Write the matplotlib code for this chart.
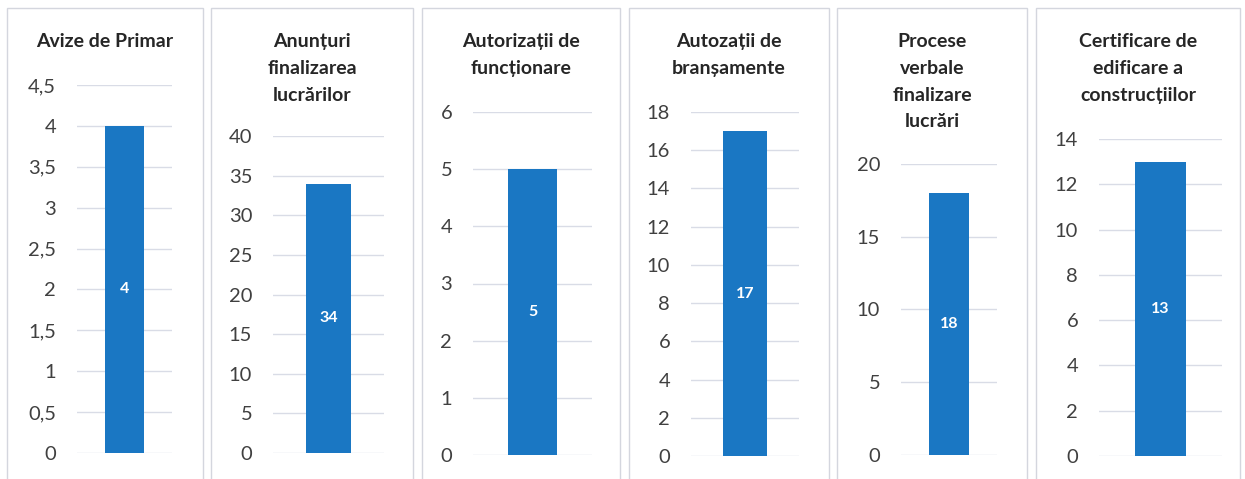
import matplotlib.pyplot as plt
from matplotlib.patches import Rectangle

W, H = 1245, 479

titles = [
    "Avize de Primar",
    "Anunțuri\nfinalizarea\nlucrărilor",
    "Autorizații de\nfuncționare",
    "Autozații de\nbranșamente",
    "Procese\nverbale\nfinalizare\nlucrări",
    "Certificare de\nedificare a\nconstrucțiilor",
]
values = [4, 34, 5, 17, 18, 13]
y_max = [4.5, 40, 6, 18, 20, 14]
y_step = [0.5, 5, 1, 2, 5, 2]

# pixel layout of each panel: box left/right, axes left/right, axes bottom/top
boxes = [(7, 203), (211, 413), (422, 620), (629, 829), (837, 1027), (1036, 1240)]
axes_px = [(77, 172, 453, 85), (273, 384, 453, 136), (473, 592, 455, 112),
           (691, 799, 456, 112), (901, 997, 455, 164), (1099, 1222, 456, 139)]

bar_color = "#1a77c3"
grid_color = "#d9dce6"
text_color = "#404040"

plt.rcParams['font.family'] = ['Lato', 'DejaVu Sans']


def fmt(v):
    s = f"{v:g}"
    return s.replace(".", ",")


def main():
    fig = plt.figure(figsize=(W / 100, H / 100), dpi=100)
    fig.patch.set_facecolor("white")

    for i in range(len(values)):
        bx0, bx1 = boxes[i]
        fig.patches.append(Rectangle((bx0 / W, -0.05), (bx1 - bx0) / W, (H - 8) / H + 0.05,
                                     transform=fig.transFigure, fill=False,
                                     edgecolor="#d4d6de", linewidth=1))
        fig.text((bx0 + bx1) / 2 / W, 1 - 33 / H, titles[i], ha="center", va="top",
                 fontsize=14, fontweight="bold", color="#262626", linespacing=1.7)

        x0, x1, yb, yt = axes_px[i]
        ax = fig.add_axes([x0 / W, 1 - yb / H, (x1 - x0) / W, (yb - yt) / H])
        ax.set_xlim(-0.5, 0.5)
        ax.set_ylim(0, y_max[i])
        ticks = [round(k * y_step[i], 2) for k in range(int(round(y_max[i] / y_step[i])) + 1)]
        ax.set_yticks(ticks)
        ax.set_yticklabels([fmt(t) for t in ticks])
        ax.set_xticks([])
        ax.tick_params(axis="y", length=0, pad=15, labelsize=14.5, labelcolor=text_color)
        for s in ax.spines.values():
            s.set_visible(False)
        ax.grid(axis="y", color=grid_color, linewidth=1)
        ax.set_axisbelow(True)
        ax.patch.set_alpha(0)

        ax.bar([0], [values[i]], width=0.41, color=bar_color, zorder=3)
        ax.text(0, values[i] / 2, str(values[i]), ha="center", va="center",
                color="white", fontsize=11.5, fontweight="bold", zorder=4)

    fig.savefig("out.png", dpi=100)


if __name__ == "__main__":
    main()
